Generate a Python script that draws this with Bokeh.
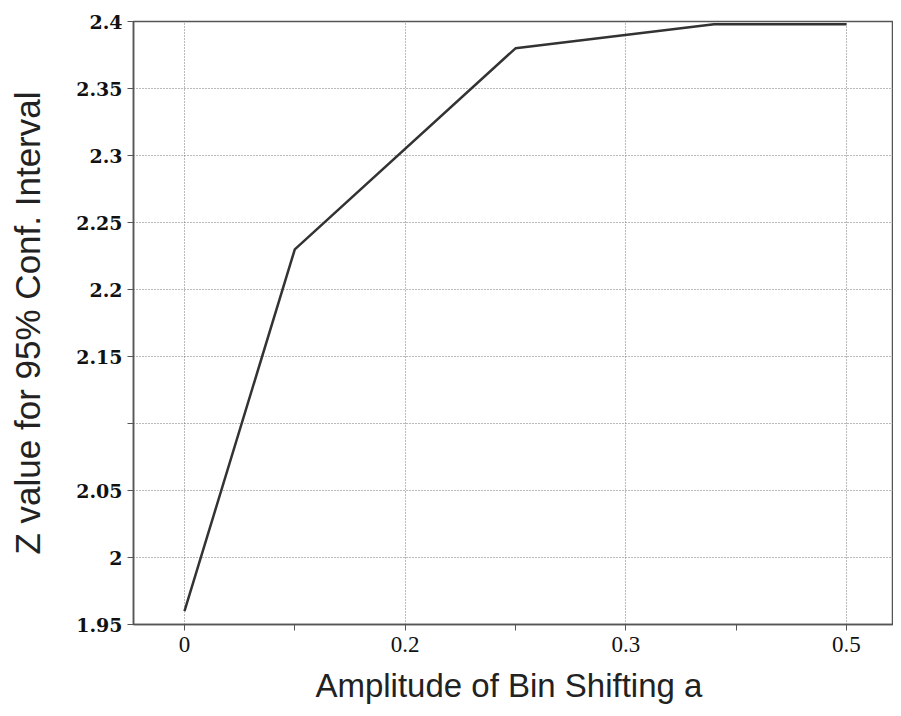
from bokeh.plotting import figure
from bokeh.models import Range1d, FixedTicker
from bokeh.embed import file_html
from bokeh.resources import INLINE

# Data (x positions on the printed axis scale; tick labels as printed)
a_pos = [0.0, 0.05, 0.15, 0.24, 0.30]
z_val = [1.96, 2.23, 2.38, 2.398, 2.398]

x_ticks = [0.0, 0.05, 0.10, 0.15, 0.20, 0.25, 0.30]
x_tick_labels = ["0", "", "0.2", "", "0.3", "", "0.5"]
x_grid = [0.0, 0.10, 0.20, 0.30]

y_ticks = [1.95, 2.0, 2.05, 2.1, 2.15, 2.2, 2.25, 2.3, 2.35, 2.4]
y_tick_labels = ["1.95", "2", "2.05", "", "2.15", "2.2", "2.25", "2.3", "2.35", "2.4"]

p = figure(width=893, height=708, output_backend="svg", toolbar_location=None,
           x_range=Range1d(-0.0231, 0.3213), y_range=Range1d(1.95, 2.4),
           min_border_left=133, min_border_right=0, min_border_top=21, min_border_bottom=84)

p.line(a_pos, z_val, line_color="#333333", line_width=2.5)

# axes
p.xaxis.ticker = FixedTicker(ticks=x_ticks)
p.xaxis.major_label_overrides = {t: l for t, l in zip(x_ticks, x_tick_labels)}
p.yaxis.ticker = FixedTicker(ticks=y_ticks)
p.yaxis.major_label_overrides = {t: l for t, l in zip(y_ticks, y_tick_labels)}

for ax in (p.xaxis[0], p.yaxis[0]):
    ax.axis_line_color = "#555555"
    ax.axis_line_width = 1.5
    ax.major_tick_line_color = "#555555"
    ax.major_tick_out = 6
    ax.major_tick_in = 0
    ax.minor_tick_line_color = None
    ax.major_label_text_color = "#111111"
    ax.axis_label_text_color = "#222222"
    ax.axis_label_text_font_style = "normal"

p.xaxis.major_label_text_font = "Liberation Serif"
p.xaxis.major_label_text_font_size = "23px"
p.xaxis.major_label_standoff = 6
p.xaxis.axis_label = "Amplitude of Bin Shifting  a"
p.xaxis.axis_label_text_font = "Liberation Sans"
p.xaxis.axis_label_text_font_size = "33px"
p.xaxis.axis_label_standoff = 12

p.yaxis.major_label_text_font = "DejaVu Serif"
p.yaxis.major_label_text_font_style = "bold"
p.yaxis.major_label_text_font_size = "19px"
p.yaxis.major_label_standoff = 5
p.yaxis.axis_label = "Z value for 95% Conf. Interval"
p.yaxis.axis_label_text_font = "Liberation Sans"
p.yaxis.axis_label_text_font_size = "35px"
p.yaxis.axis_label_standoff = 26

# grid
p.xgrid.ticker = FixedTicker(ticks=x_grid)
p.ygrid.ticker = FixedTicker(ticks=y_ticks)
for g in (p.xgrid[0], p.ygrid[0]):
    g.grid_line_color = "#777777"
    g.grid_line_dash = "1 2"
    g.grid_line_width = 1

p.outline_line_color = "#555555"
p.outline_line_width = 1.5
p.background_fill_color = "white"
p.border_fill_color = "white"

open("out.html", "w").write(file_html(p, INLINE))
